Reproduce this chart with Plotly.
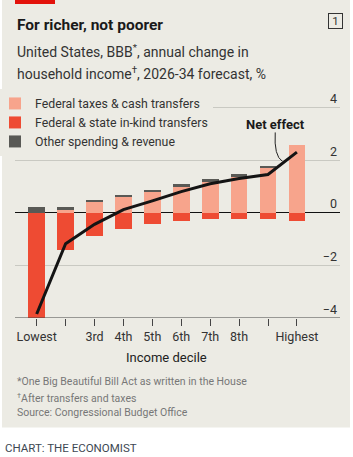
import plotly.graph_objects as go

deciles = ["Lowest", "2nd", "3rd", "4th", "5th", "6th", "7th", "8th", "9th", "Highest"]
labelled = ["Lowest", "3rd", "4th", "5th", "6th", "7th", "8th", "Highest"]
fed_taxes = [0.0, 0.1, 0.39, 0.58, 0.78, 0.98, 1.18, 1.37, 1.69, 2.57]
in_kind = [-4.05, -1.4, -0.9, -0.62, -0.42, -0.3, -0.22, -0.22, -0.22, -0.3]
other = [0.2, 0.1, 0.1, 0.1, 0.1, 0.1, 0.09, 0.09, 0.09, 0.0]
net_effect = [-3.85, -1.18, -0.44, 0.12, 0.45, 0.8, 1.1, 1.3, 1.45, 2.3]
y_ticks = [-4, -2, 0, 2, 4]

W, H = 353, 457
Y0, Y1 = -4, 4.7
L, R, B = 15, 340, 318.3
T = B - (Y1 - Y0) * 26.35
BG = "#ECEBE4"
FONT = "Roboto"

def px(p):
    return (p - L) / (R - L)

def py(p):
    return (B - p) / (B - T)

xs = list(range(len(deciles)))
lab_x = [deciles.index(d) for d in labelled]

fig = go.Figure()
fig.add_trace(go.Bar(x=xs, y=fed_taxes, name="Federal taxes & cash transfers",
                     marker=dict(color="#F7A48C", line=dict(width=0)), width=0.58))
fig.add_trace(go.Bar(x=xs, y=in_kind, name="Federal & state in-kind transfers",
                     marker=dict(color="#EE4B33", line=dict(width=0)), width=0.58))
fig.add_trace(go.Bar(x=xs, y=other, name="Other spending & revenue",
                     marker=dict(color="#595955", line=dict(width=0)), width=0.58))
fig.add_trace(go.Scatter(x=xs, y=net_effect, mode="lines", showlegend=False,
                         line=dict(color="#141414", width=3)))

shapes = [
    dict(type="rect", xref="paper", yref="paper", x0=px(2), x1=px(350), y0=py(428), y1=py(0),
         fillcolor=BG, line=dict(width=0), layer="below"),
    dict(type="rect", xref="paper", yref="paper", x0=px(15), x1=px(55), y0=py(4), y1=py(0),
         fillcolor="#E3120B", line=dict(width=0)),
    dict(type="path", xref="x", yref="y", path="M 8.25,3.05 Q 8.2,2.15 8.5,1.95",
         line=dict(color="#222", width=1)),
    dict(type="line", xref="paper", yref="y", x0=0, x1=1, y0=-4, y1=-4,
         line=dict(color="#444", width=1)),
]

ann = []
def text(t, x, y, size, color="#222", bold=False, xanchor="left", xref="paper", **kw):
    if bold:
        t = "<b>" + t + "</b>"
    ann.append(dict(text=t, x=x, y=py(y), xref=xref, yref="paper", xanchor=xanchor,
                    yanchor="middle", showarrow=False,
                    font=dict(family=FONT, size=size, color=color), **kw))

text("For richer, not poorer", px(15), 25, 15.5, "#1a1a1a", bold=True)
text("United States, BBB<sup>*</sup>, annual change in", px(15), 51.5, 14, "#333")
text("household income<sup>†</sup>, 2026-34 forecast, %", px(15), 73, 14, "#333")
text("1", px(335), 21, 11.5, "#333", xanchor="center", bordercolor="#333", borderwidth=1,
     borderpad=1, width=11, height=12)
text("Net effect", 8.25, 124.5, 13, "#1a1a1a", bold=True, xanchor="center", xref="x")
text("Income decile", 4.5, 358, 13, "#222", xanchor="center", xref="x")
text("*One Big Beautiful Bill Act as written in the House", px(15), 382, 10.5, "#777")
text("<sup>†</sup>After transfers and taxes", px(15), 398, 10.5, "#777")
text("Source: Congressional Budget Office", px(15), 413, 10.5, "#777")
text("CHART: THE ECONOMIST", px(3), 448, 11.5, "#3d4852")

fig.update_layout(
    width=W, height=H,
    margin=dict(l=L, r=W - R, t=T, b=H - B, pad=0, autoexpand=False),
    paper_bgcolor="white", plot_bgcolor=BG,
    barmode="relative", bargap=0,
    font=dict(family=FONT, size=12, color="#333"),
    showlegend=True,
    legend=dict(x=px(-5), y=py(89), xanchor="left", yanchor="top", bgcolor=BG,
                font=dict(family=FONT, size=12.3, color="#333"), traceorder="normal",
                itemclick=False),
    shapes=shapes, annotations=ann,
    xaxis=dict(range=[-0.75, 10.49], tickmode="array", tickvals=lab_x, ticktext=labelled,
               showgrid=False, zeroline=False, ticks="outside", ticklen=7, tickcolor="#444",
               tickwidth=1, tickfont=dict(family=FONT, size=12.5, color="#333"),
               minor=dict(tickvals=xs, ticks="outside", ticklen=7, tickcolor="#444", tickwidth=1,
                          showgrid=False),
               fixedrange=True),
    yaxis=dict(range=[Y0, Y1], tickvals=y_ticks, side="right", ticklabelposition="inside top",
               showgrid=True, gridcolor="#C9C9C2", gridwidth=1,
               zeroline=True, zerolinecolor="#111", zerolinewidth=1.2,
               showline=False, ticks="",
               tickfont=dict(family=FONT, size=12.5, color="#333"), fixedrange=True),
)

fig.write_html("out.html")
